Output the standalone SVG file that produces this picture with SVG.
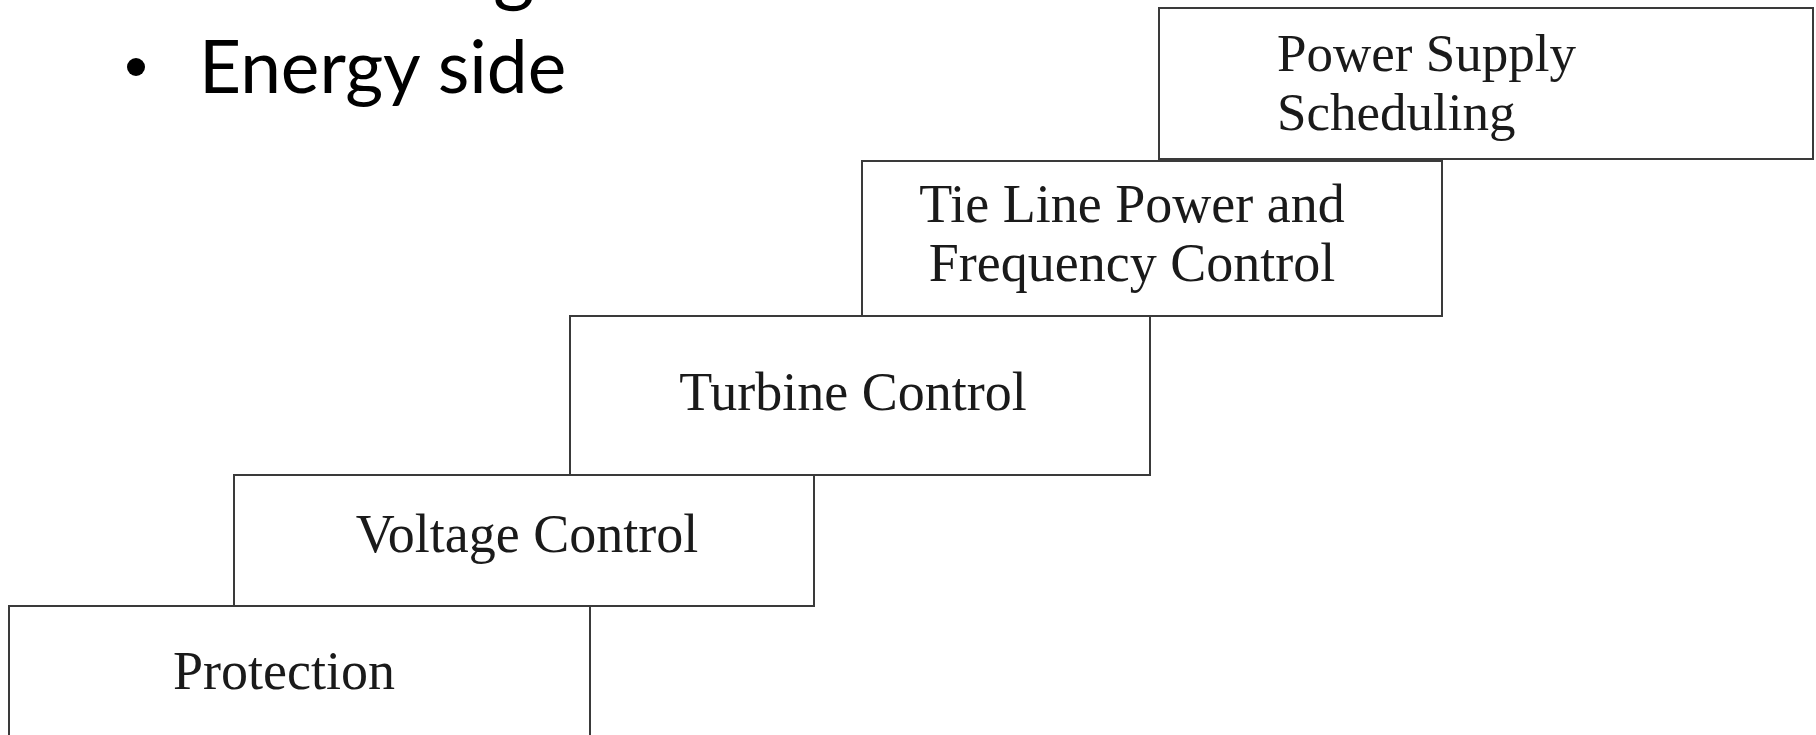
<svg xmlns="http://www.w3.org/2000/svg" width="1816" height="735" viewBox="0 0 1816 735">
<style>
.box{fill:#fff;stroke:#3a3a3a;stroke-width:2}
.lbl{font-family:"Liberation Serif","Times New Roman",serif;fill:#1a1a1a;font-size:54px}
.head{font-family:Lato,"Open Sans",sans-serif;fill:#000}
</style>
<rect width="1816" height="735" fill="#fff"/>
<g id="heading">
<text class="head" x="493" y="-4" font-size="80">g</text>
<circle cx="136" cy="67" r="9" fill="#000"/>
<text class="head" x="199" y="93" font-size="73">Energy side</text>
</g>
<g id="connectors"></g>
<g id="node-protection">
<rect class="box" x="9" y="606" width="581" height="140"/>
<text class="lbl" x="284" y="689" text-anchor="middle">Protection</text>
</g>
<g id="node-voltage">
<rect class="box" x="234" y="475" width="580" height="131"/>
<text class="lbl" x="527" y="552" text-anchor="middle">Voltage Control</text>
</g>
<g id="node-turbine">
<rect class="box" x="570" y="316" width="580" height="159"/>
<text class="lbl" x="853" y="410" text-anchor="middle">Turbine Control</text>
</g>
<g id="node-tieline">
<rect class="box" x="862" y="161" width="580" height="155"/>
<text class="lbl" x="1132" y="222" text-anchor="middle">Tie Line Power and</text>
<text class="lbl" x="1132" y="281" text-anchor="middle">Frequency Control</text>
</g>
<g id="node-scheduling">
<rect class="box" x="1159" y="8" width="654" height="151"/>
<text class="lbl" x="1277" y="71" style="font-size:53px">Power Supply</text>
<text class="lbl" x="1277" y="130" style="font-size:53px">Scheduling</text>
</g>
</svg>
